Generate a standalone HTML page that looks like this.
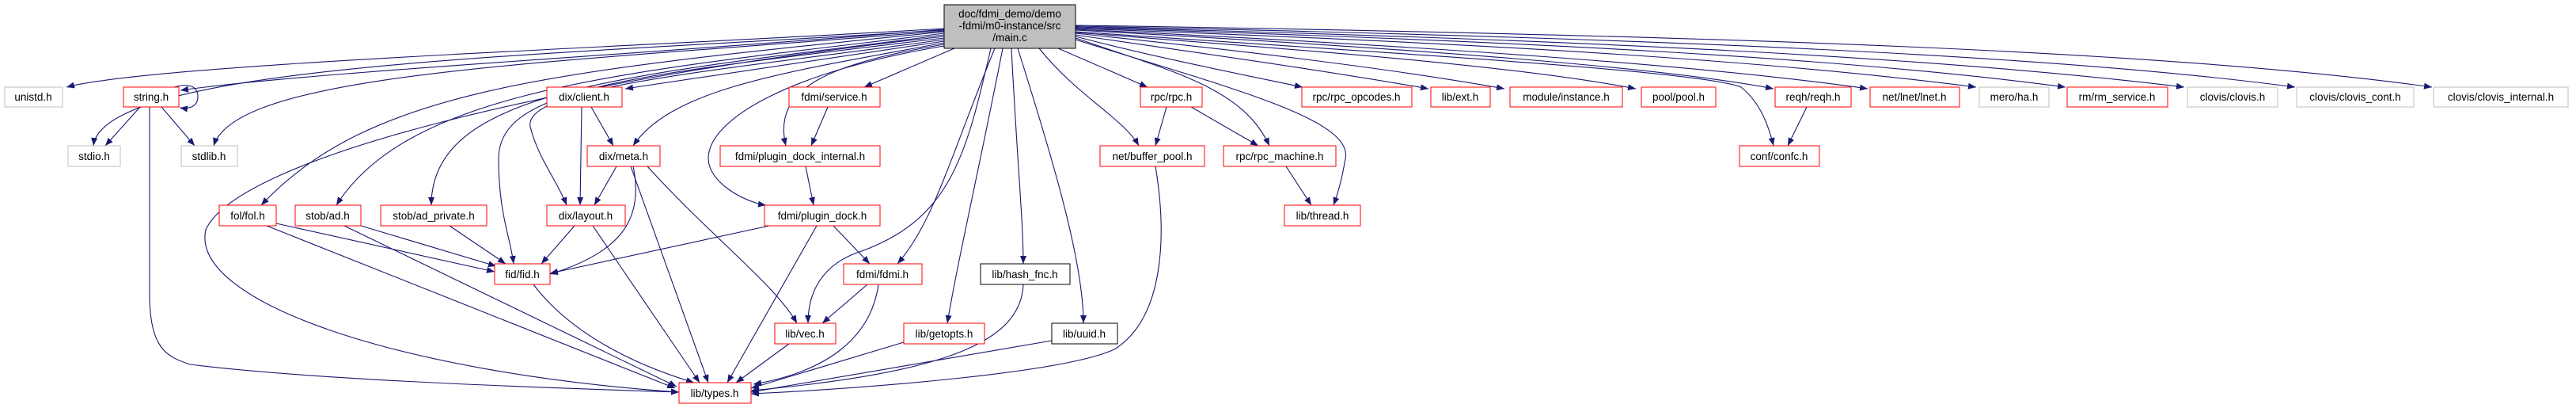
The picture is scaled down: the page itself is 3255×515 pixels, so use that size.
<!DOCTYPE html>
<html><head><meta charset="utf-8"><style>
html,body{margin:0;padding:0;background:#fff;}
svg{display:block;}
text{font-family:"Liberation Sans",sans-serif;font-size:13.5px;fill:#000;text-anchor:middle;}
.e{fill:none;stroke:#191970;stroke-width:1.1;marker-end:url(#a);}
.r{fill:#fff;stroke:#ff0000;stroke-width:1;}
.g{fill:#fff;stroke:#bfbfbf;stroke-width:1;}
.k{fill:#fff;stroke:#000;stroke-width:1;}
</style></head><body>
<svg width="3255" height="515" viewBox="0 0 3255 515" xmlns="http://www.w3.org/2000/svg">
<defs><marker id="a" markerUnits="userSpaceOnUse" markerWidth="10" markerHeight="8" refX="10" refY="4" orient="auto"><path d="M0,0 L10,4 L0,8 z" fill="#191970"/></marker></defs>
<g>
<path class="e" d="M1193,36 C800,60 200,80 84,110"/>
<path class="e" d="M1193,37 C800,70 400,90 228,114"/>
<path class="e" d="M1193,38 C700,70 130,80 118,184"/>
<path class="e" d="M1193,39 C700,80 300,90 270,184"/>
<path class="e" d="M1193,40 C700,90 470,110 330,259"/>
<path class="e" d="M1193,42 C800,90 520,110 425,259"/>
<path class="e" d="M1193,44 C800,95 545,110 545,259"/>
<path class="e" d="M1193,46 C700,100 300,200 260,290 C240,380 500,470 858,495"/>
<path class="e" d="M1193,48 C800,95 630,110 630,200 C630,270 645,300 649,333"/>
<path class="e" d="M1193,50 C900,90 660,110 670,160 C680,200 705,230 716,259"/>
<path class="e" d="M1193,52 L790,112"/>
<path class="e" d="M1193,54 C1000,90 850,110 800,184"/>
<path class="e" d="M1206,61 L1092,110"/>
<path class="e" d="M1193,56 C1050,80 975,110 993,184"/>
<path class="e" d="M1193,58 C1000,90 895,150 895,200 C895,230 940,255 968,259"/>
<path class="e" d="M1252,61 C1220,200 1200,280 1080,320 C1030,340 1021,380 1021,408"/>
<path class="e" d="M1257,61 C1200,200 1180,280 1134,333"/>
<path class="e" d="M1267,61 C1240,200 1210,330 1197,408"/>
<path class="e" d="M1278,61 C1285,200 1293,280 1293,333"/>
<path class="e" d="M1286,61 C1330,200 1369,330 1369,408"/>
<path class="e" d="M1313,61 C1360,120 1420,150 1439,184"/>
<path class="e" d="M1337,61 L1450,110"/>
<path class="e" d="M1359,48 C1480,90 1570,110 1604,184"/>
<path class="e" d="M1359,50 C1550,110 1710,150 1700,200 C1695,230 1690,245 1685,259"/>
<path class="e" d="M1359,46 C1450,70 1550,90 1646,110"/>
<path class="e" d="M1359,44 C1500,65 1650,85 1805,112"/>
<path class="e" d="M1359,42 C1550,62 1750,85 1901,112"/>
<path class="e" d="M1359,41 C1600,60 1900,80 2067,112"/>
<path class="e" d="M1359,40 C1800,70 2150,90 2200,110 C2225,130 2235,160 2241,184"/>
<path class="e" d="M1359,38 C1800,62 2100,85 2241,112"/>
<path class="e" d="M1359,37 C1800,58 2150,82 2360,112"/>
<path class="e" d="M1359,36 C1900,55 2250,78 2497,110"/>
<path class="e" d="M1359,35 C1950,52 2350,75 2610,110"/>
<path class="e" d="M1359,34 C2000,50 2450,72 2760,110"/>
<path class="e" d="M1359,33 C2100,48 2600,70 2900,110"/>
<path class="e" d="M1359,32 C2200,45 2750,65 3073,110"/>
<path class="e" d="M220,110 C240,104 250,110 250,122 C250,134 240,138 227,136"/>
<path class="e" d="M177,135 L133,184"/>
<path class="e" d="M204,135 L246,184"/>
<path class="e" d="M189,135 L189,370 C189,440 210,450 240,460 C400,480 700,490 858,495"/>
<path class="e" d="M349,282 L625,343"/>
<path class="e" d="M337,285 L853,490"/>
<path class="e" d="M456,285 L627,336"/>
<path class="e" d="M435,285 L855,488"/>
<path class="e" d="M568,285 L639,333"/>
<path class="e" d="M674,359 C720,420 800,460 877,483"/>
<path class="e" d="M747,135 L775,184"/>
<path class="e" d="M735,135 L733,259"/>
<path class="e" d="M779,210 L751,259"/>
<path class="e" d="M800,210 C815,280 780,320 695,346"/>
<path class="e" d="M797,210 L895,483"/>
<path class="e" d="M818,210 C900,300 980,360 1007,408"/>
<path class="e" d="M726,285 L684,333"/>
<path class="e" d="M749,285 L884,483"/>
<path class="e" d="M1046,135 L1025,184"/>
<path class="e" d="M1018,210 L1028,259"/>
<path class="e" d="M972,285 L695,345"/>
<path class="e" d="M1032,285 L919,483"/>
<path class="e" d="M1053,285 L1099,333"/>
<path class="e" d="M1096,359 L1039,408"/>
<path class="e" d="M1110,359 C1100,430 1040,470 952,485"/>
<path class="e" d="M997,434 L930,483"/>
<path class="e" d="M1142,432 L949,490"/>
<path class="e" d="M1293,359 C1290,430 1200,470 949,493"/>
<path class="e" d="M1329,430 L949,495"/>
<path class="e" d="M1460,210 C1475,300 1470,400 1410,440 C1350,470 1100,490 949,497"/>
<path class="e" d="M1474,135 L1460,184"/>
<path class="e" d="M1505,135 L1590,184"/>
<path class="e" d="M1625,210 L1657,259"/>
<path class="e" d="M2283,135 L2259,184"/>
</g>
<g>
<rect x="1193" y="6" width="166" height="55" fill="#bfbfbf" stroke="#000"/>
<text x="1276" y="22">doc/fdmi_demo/demo</text>
<text x="1276" y="37">-fdmi/m0-instance/src</text>
<text x="1276" y="52">/main.c</text>

<rect class="g" x="6" y="110" width="73" height="25"/><text x="42" y="127">unistd.h</text>
<rect class="r" x="156" y="110" width="70" height="25"/><text x="191" y="127">string.h</text>
<rect class="g" x="86" y="184" width="66" height="26"/><text x="119" y="202">stdio.h</text>
<rect class="g" x="229" y="184" width="71" height="26"/><text x="264" y="202">stdlib.h</text>
<rect class="r" x="277" y="259" width="72" height="26"/><text x="313" y="277">fol/fol.h</text>
<rect class="r" x="373" y="259" width="83" height="26"/><text x="414" y="277">stob/ad.h</text>
<rect class="r" x="481" y="259" width="134" height="26"/><text x="548" y="277">stob/ad_private.h</text>
<rect class="r" x="691" y="110" width="95" height="25"/><text x="738" y="127">dix/client.h</text>
<rect class="r" x="742" y="184" width="92" height="26"/><text x="788" y="202">dix/meta.h</text>
<rect class="r" x="691" y="259" width="99" height="26"/><text x="740" y="277">dix/layout.h</text>
<rect class="r" x="625" y="333" width="70" height="26"/><text x="660" y="351">fid/fid.h</text>
<rect class="r" x="997" y="110" width="115" height="25"/><text x="1054" y="127">fdmi/service.h</text>
<rect class="r" x="910" y="184" width="202" height="26"/><text x="1011" y="202">fdmi/plugin_dock_internal.h</text>
<rect class="r" x="966" y="259" width="146" height="26"/><text x="1039" y="277">fdmi/plugin_dock.h</text>
<rect class="r" x="1066" y="333" width="99" height="26"/><text x="1115" y="351">fdmi/fdmi.h</text>
<rect class="r" x="979" y="408" width="77" height="26"/><text x="1017" y="426">lib/vec.h</text>
<rect class="r" x="858" y="483" width="91" height="26"/><text x="903" y="501">lib/types.h</text>
<rect class="r" x="1441" y="110" width="78" height="25"/><text x="1480" y="127">rpc/rpc.h</text>
<rect class="r" x="1645" y="110" width="139" height="25"/><text x="1714" y="127">rpc/rpc_opcodes.h</text>
<rect class="r" x="1808" y="110" width="75" height="25"/><text x="1845" y="127">lib/ext.h</text>
<rect class="r" x="1908" y="110" width="142" height="25"/><text x="1979" y="127">module/instance.h</text>
<rect class="r" x="2074" y="110" width="94" height="25"/><text x="2121" y="127">pool/pool.h</text>
<rect class="r" x="1390" y="184" width="132" height="26"/><text x="1456" y="202">net/buffer_pool.h</text>
<rect class="r" x="1546" y="184" width="142" height="26"/><text x="1617" y="202">rpc/rpc_machine.h</text>
<rect class="r" x="1623" y="259" width="96" height="26"/><text x="1671" y="277">lib/thread.h</text>
<rect class="k" x="1239" y="333" width="113" height="26"/><text x="1295" y="351">lib/hash_fnc.h</text>
<rect class="r" x="1142" y="408" width="102" height="26"/><text x="1193" y="426">lib/getopts.h</text>
<rect class="k" x="1329" y="408" width="83" height="26"/><text x="1370" y="426">lib/uuid.h</text>
<rect class="r" x="2243" y="110" width="96" height="25"/><text x="2291" y="127">reqh/reqh.h</text>
<rect class="r" x="2363" y="110" width="113" height="25"/><text x="2419" y="127">net/lnet/lnet.h</text>
<rect class="g" x="2501" y="110" width="88" height="25"/><text x="2545" y="127">mero/ha.h</text>
<rect class="r" x="2612" y="110" width="127" height="25"/><text x="2675" y="127">rm/rm_service.h</text>
<rect class="g" x="2764" y="110" width="114" height="25"/><text x="2821" y="127">clovis/clovis.h</text>
<rect class="g" x="2902" y="110" width="148" height="25"/><text x="2976" y="127">clovis/clovis_cont.h</text>
<rect class="g" x="3075" y="110" width="170" height="25"/><text x="3160" y="127">clovis/clovis_internal.h</text>
<rect class="r" x="2198" y="184" width="101" height="26"/><text x="2248" y="202">conf/confc.h</text>
</g>
</svg>
</body></html>
